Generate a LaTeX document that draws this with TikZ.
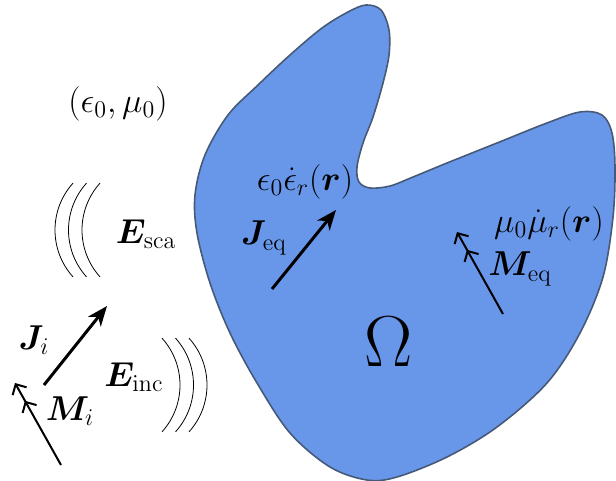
\documentclass[tikz,border=0pt]{standalone}
\usepackage{amsmath,amssymb}
\usepackage{bm}
\usetikzlibrary{arrows.meta}

\definecolor{blobblue}{RGB}{104,151,234}
\definecolor{blobedge}{RGB}{70,90,120}

\tikzset{
  jarrow/.style={line width=1.5pt,-{Stealth[length=10pt,width=8pt,inset=3pt]}},
  marrow/.style={line width=1pt,-{Straight Barb[length=4pt,width=8pt,sep=5pt]Straight Barb[length=4pt,width=8pt]}},
  wave/.style={line width=0.4pt},
  lbl/.style={inner sep=0pt,font=\fontsize{17.5}{21}\selectfont}
}

\begin{document}
\begin{tikzpicture}[x=0.5pt,y=-0.5pt]
  \useasboundingbox (0,0) rectangle (616,481);
  % scatterer
  \draw[fill=blobblue,draw=blobedge,line width=0.8pt] plot[smooth cycle,tension=0.55] coordinates {
    (348,12) (366,5) (381,10) (389,30) (389,55) (383,83) (373,117) (363,143)
    (357,167) (359,182) (370,188) (390,186) (413,177) (447,163)
    (497,143) (547,123) (580,112) (602,115) (612,133) (615,167)
    (613,217) (603,277) (580,333) (547,383) (497,427) (447,457)
    (397,477) (367,480) (330,467) (290,433) (257,383) (230,333)
    (210,283) (197,233) (195,195) (205,155) (228,115) (258,85)
    (290,55) (322,28)};
  \node[font=\Huge,scale=1.45] (omega) at (389,342) {$\Omega$};

  % background medium
  \node[lbl] (medium) at (118,104) {$(\epsilon_0,\mu_0)$};

  % scattered field
  \foreach \dx in {0,13.5,27}
    \draw[wave] ([xshift=\dx*0.5pt]125,230) ++(138:70) arc (138:222:70);
  \node[lbl] (esca) at (146,234) {$\bm{E}_{\mathrm{sca}}$};

  % incident field
  \foreach \dx in {0,13.5,27}
    \draw[wave] ([xshift=\dx*0.5pt]110,385) ++(-42:70) arc (-42:42:70);
  \node[lbl] (einc) at (134,377) {$\bm{E}_{\mathrm{inc}}$};

  % impressed sources
  \coordinate (ji0) at (44,385);
  \coordinate (ji1) at (107,306);
  \draw[jarrow] (ji0) -- (ji1);
  \node[lbl] (jilbl) at (34,340) {$\bm{J}_i$};
  \coordinate (mi0) at (61,465);
  \coordinate (mi1) at (15,383);
  \draw[marrow] (mi0) -- (mi1);
  \node[lbl] (milbl) at (70,411) {$\bm{M}_i$};

  % equivalent sources
  \coordinate (jeq0) at (272,289);
  \coordinate (jeq1) at (336,210);
  \draw[jarrow] (jeq0) -- (jeq1);
  \node[lbl] (jeqlbl) at (264,238) {$\bm{J}_{\mathrm{eq}}$};
  \node[lbl] (eps) at (305,182) {$\epsilon_0\dot{\epsilon}_r(\bm{r})$};
  \coordinate (meq0) at (503,314);
  \coordinate (meq1) at (457,232);
  \draw[marrow] (meq0) -- (meq1);
  \node[lbl] (meqlbl) at (520,269) {$\bm{M}_{\mathrm{eq}}$};
  \node[lbl] (mu) at (549,224) {$\mu_0\dot{\mu}_r(\bm{r})$};
\end{tikzpicture}
\end{document}
